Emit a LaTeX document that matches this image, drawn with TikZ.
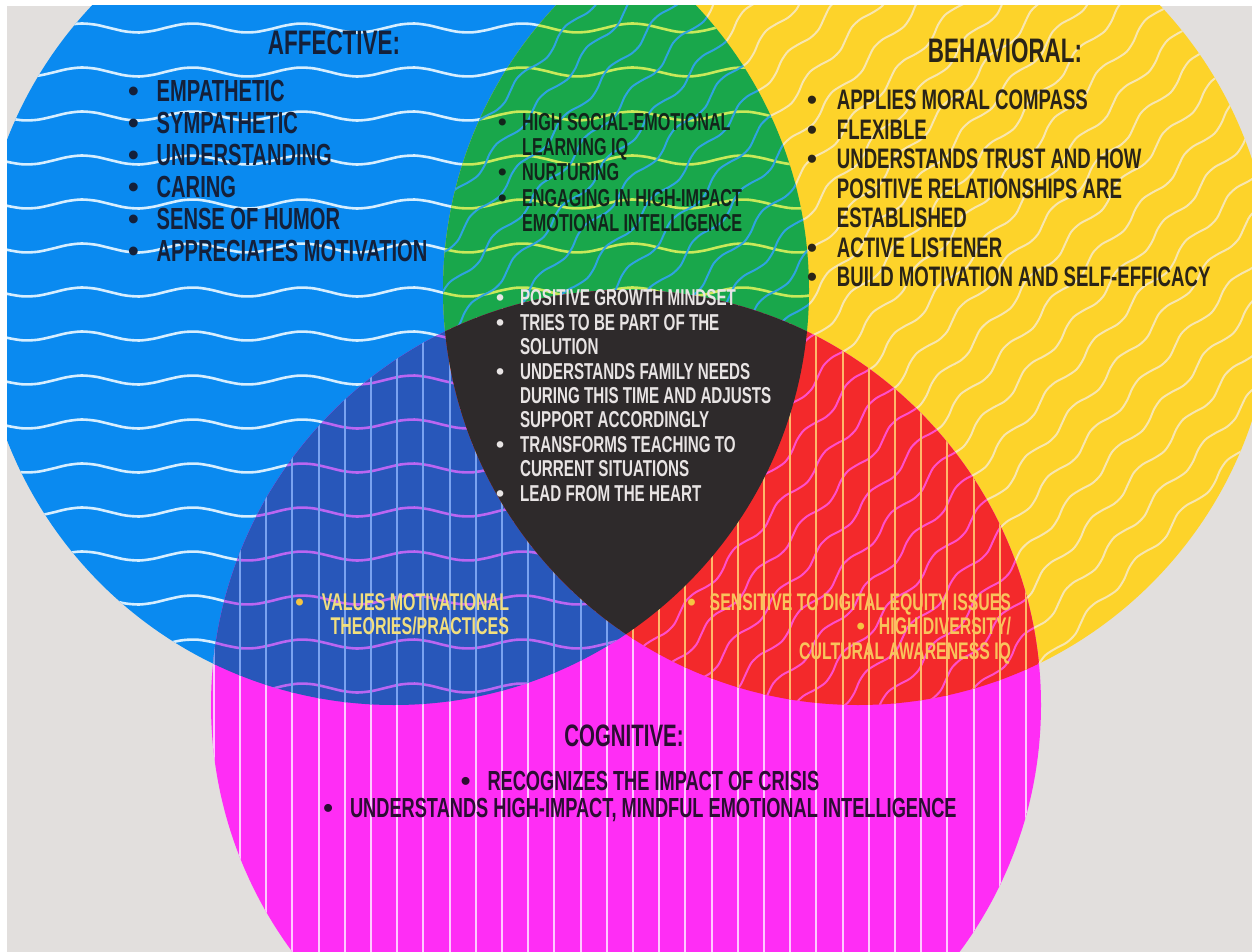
\documentclass[tikz,border=0pt]{standalone}
\usepackage{fontspec}
\newfontfamily\cond[FakeStretch=0.66]{Liberation Sans}
\newfontfamily\bulfont{Liberation Sans}
\definecolor{bgc}{HTML}{E2DFDD}
\definecolor{cblue}{HTML}{0A8AF0}
\definecolor{cyellow}{HTML}{FDD32A}
\definecolor{cmag}{HTML}{FF2DF5}
\definecolor{cgreen}{HTML}{19A74B}
\definecolor{cdblue}{HTML}{2857BA}
\definecolor{cred}{HTML}{F3292B}
\definecolor{cdark}{HTML}{2E2A2B}
\definecolor{wblue}{HTML}{D6EEFF}
\definecolor{wyel}{HTML}{F8E6B0}
\definecolor{wmag}{HTML}{FFC8FF}
\definecolor{lgreen}{HTML}{C9E95A}
\definecolor{lcyan}{HTML}{2FA3E0}
\definecolor{lviolet}{HTML}{BA66F2}
\definecolor{lsky}{HTML}{7AA2F0}
\definecolor{lpink}{HTML}{FF4FCB}
\definecolor{lorange}{HTML}{FFB86A}
\definecolor{txA}{HTML}{14203A}
\definecolor{txB}{HTML}{2A2417}
\definecolor{txG}{HTML}{12251B}
\definecolor{txC}{HTML}{2C0D33}
\definecolor{txL}{HTML}{E8E4E4}
\definecolor{txY}{HTML}{F2DF7E}
\definecolor{txO}{HTML}{F9C45C}
\definecolor{bulY}{HTML}{F5C542}
\newcommand\bul{{\bulfont\bfseries •}}
\newcommand\hwaves[1]{\foreach \yy in {28,72,...,740}{\draw[#1,line width=1.3pt] plot[smooth,domain=-20:1270,samples=90] (\x,{\yy+4.5*sin(\x*3.2727)});}}
\newcommand\dwaves[1]{\begin{scope}[rotate around={47:(858,290)}]\foreach \k in {-22,...,22}{\draw[#1,line width=1pt] plot[smooth,domain=258:1458,samples=100] (\x,{290+30*\k+4*sin(\x*5.4)});}\end{scope}}
\newcommand\vlines[1]{\foreach \k in {-2,...,33}{\draw[#1,line width=1pt] ({240+26.2*\k},270) -- ({240+26.2*\k},960);}}
\begin{document}
\begin{tikzpicture}[x=0.5pt,y=-0.5pt,
  lst/.style={inner sep=0pt,outer sep=0pt,align=left},
  ttl/.style={inner sep=0pt,outer sep=0pt,anchor=base,font=\cond\bfseries\fontsize{17}{17}\selectfont}]
\useasboundingbox (0,0) rectangle (1252,952);
\fill[white] (0,0) rectangle (1252,952);
\fill[bgc] (7,6) rectangle (1252,952);
\coordinate (A) at (394,290);
\coordinate (B) at (858,290);
\coordinate (C) at (626,705);
\def\R{415}
% base circles
\begin{scope}
\clip (7,6) rectangle (1252,952);
\fill[cblue] (A) circle[radius=\R];
\fill[cyellow] (B) circle[radius=\R];
\fill[cmag] (C) circle[radius=\R];
\begin{scope}\clip (A) circle[radius=\R]; \hwaves{wblue}\end{scope}
\begin{scope}\clip (B) circle[radius=\R]; \dwaves{wyel}\end{scope}
\begin{scope}\clip (C) circle[radius=\R]; \vlines{wmag}\end{scope}
% pairwise overlaps
\begin{scope}\clip (A) circle[radius=\R];
  \fill[cgreen] (B) circle[radius=\R];
  \clip (B) circle[radius=\R];
  \hwaves{lgreen}\dwaves{lcyan}
\end{scope}
\begin{scope}\clip (A) circle[radius=\R];
  \fill[cdblue] (C) circle[radius=\R];
  \clip (C) circle[radius=\R];
  \hwaves{lviolet}\vlines{lsky}
\end{scope}
\begin{scope}\clip (B) circle[radius=\R];
  \fill[cred] (C) circle[radius=\R];
  \clip (C) circle[radius=\R];
  \dwaves{lpink}\vlines{lorange}
\end{scope}
\begin{scope}\clip (A) circle[radius=\R];\clip (B) circle[radius=\R];
  \fill[cdark] (C) circle[radius=\R];
\end{scope}
\end{scope}
% titles
\node[ttl,text=txA] (taff) at (334,55) {AFFECTIVE:};
\node[ttl,text=txB] (tbeh) at (1005,63) {BEHAVIORAL:};
\node[ttl,text=txC,font=\cond\bfseries\fontsize{15.5}{15.5}\selectfont] (tcog) at (624,746) {COGNITIVE:};
% affective
\node[lst,anchor=base west,text=txA,font=\cond\bfseries\fontsize{15.25}{16}\selectfont] (laff) at (128,102)
{\begin{tabular}[t]{@{}l@{\hspace{9pt}}l@{}}
\bul & EMPATHETIC\\ \bul & SYMPATHETIC\\ \bul & UNDERSTANDING\\ \bul & CARING\\ \bul & SENSE OF HUMOR\\ \bul & APPRECIATES MOTIVATION
\end{tabular}};
% green
\node[lst,anchor=base west,text=txG,font=\cond\bfseries\fontsize{12.25}{12.6}\selectfont] (lgrn) at (498,130.5)
{\begin{tabular}[t]{@{}l@{\hspace{7.8pt}}l@{}}
\bul & HIGH SOCIAL-EMOTIONAL\\ & LEARNING IQ\\ \bul & NURTURING\\ \bul & ENGAGING IN HIGH-IMPACT\\ & EMOTIONAL INTELLIGENCE
\end{tabular}};
% behavioral
\node[lst,anchor=base west,text=txB,font=\cond\bfseries\fontsize{14.1}{14.75}\selectfont] (lbeh) at (807,110)
{\begin{tabular}[t]{@{}l@{\hspace{10pt}}l@{}}
\bul & APPLIES MORAL COMPASS\\ \bul & FLEXIBLE\\ \bul & UNDERSTANDS TRUST AND HOW\\ & POSITIVE RELATIONSHIPS ARE\\ & ESTABLISHED\\ \bul & ACTIVE LISTENER\\ \bul & BUILD MOTIVATION AND SELF-EFFICACY
\end{tabular}};
% center
\node[lst,anchor=base west,text=txL,font=\cond\bfseries\fontsize{11.5}{12.2}\selectfont] (lctr) at (496,306)
{\begin{tabular}[t]{@{}l@{\hspace{8pt}}l@{}}
\bul & POSITIVE GROWTH MINDSET\\ \bul & TRIES TO BE PART OF THE\\ & SOLUTION\\ \bul & UNDERSTANDS FAMILY NEEDS\\ & DURING THIS TIME AND ADJUSTS\\ & SUPPORT ACCORDINGLY\\ \bul & TRANSFORMS TEACHING TO\\ & CURRENT SITUATIONS\\ \bul & LEAD FROM THE HEART
\end{tabular}};
% affective-cognitive
\node[lst,anchor=base east,text=txY,font=\cond\bfseries\fontsize{12.1}{11.5}\selectfont] (lval) at (509,610)
{\begin{tabular}[t]{@{}r@{}}
{\color{bulY}\bul}\hspace{9pt}VALUES MOTIVATIONAL\\ THEORIES/PRACTICES
\end{tabular}};
% behavioral-cognitive
\node[lst,anchor=base east,text=txO,font=\cond\bfseries\fontsize{12}{12.2}\selectfont] (lsen) at (1011,610)
{\begin{tabular}[t]{@{}r@{}}
{\color{bulY}\bul}\hspace{7pt}SENSITIVE TO DIGITAL EQUITY ISSUES\\ {\color{bulY}\bul}\hspace{7pt}HIGH DIVERSITY/\\ CULTURAL AWARENESS IQ
\end{tabular}};
% cognitive
\node[lst,anchor=base,text=txC,font=\cond\bfseries\fontsize{13.8}{13.5}\selectfont] (lcog) at (640,790)
{\begin{tabular}[t]{@{}c@{}}
\bul\hspace{8.5pt}RECOGNIZES THE IMPACT OF CRISIS\\ \bul\hspace{8.5pt}UNDERSTANDS HIGH-IMPACT, MINDFUL EMOTIONAL INTELLIGENCE
\end{tabular}};
\end{tikzpicture}
\end{document}
